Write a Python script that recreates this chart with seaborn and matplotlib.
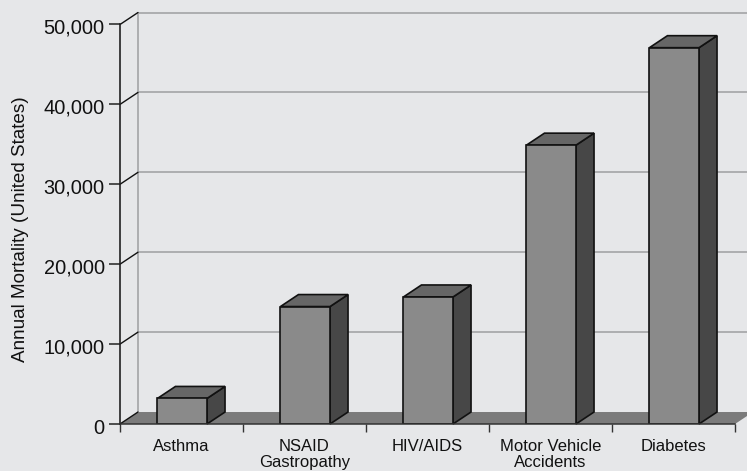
import matplotlib
matplotlib.use("Agg")
import matplotlib.pyplot as plt
from matplotlib.patches import Polygon
from matplotlib.transforms import ScaledTranslation
import seaborn as sns

# -----------------------------
# DATA
# -----------------------------
categories = ["Asthma", "NSAID\nGastropathy", "HIV/AIDS", "Motor Vehicle\nAccidents", "Diabetes"]
mortality = [3200, 14700, 15900, 34900, 47100]
y_ticks = [0, 10000, 20000, 30000, 40000, 50000]

# -----------------------------
# STYLE
# -----------------------------
BG = "#E6E7E9"
GRID = "#A9AAAC"
FLOOR = "#7B7B7B"
FRONT = "#8A8A8A"
TOP = "#666666"
SIDE = "#474747"
EDGE = "#111111"

sns.set_style("white")
plt.rcParams["font.family"] = ["Liberation Sans", "DejaVu Sans"]

# depth of the fake 3D box, in data units
DX = 18 / 123
DY = 1500

fig = plt.figure(figsize=(7.47, 4.71), dpi=100, facecolor=BG)
ax = fig.add_axes([120 / 747, 47 / 471, 615 / 747, 399.5 / 471])
ax.set_facecolor("none")

x_lo, x_hi = -0.5, len(categories) - 0.5

# -----------------------------
# BACK WALL + FLOOR
# -----------------------------
ax.add_patch(Polygon(
    [(x_lo, 0), (x_hi, 0), (x_hi + DX, DY), (x_lo + DX, DY)],
    facecolor=FLOOR, edgecolor="none", clip_on=False, zorder=1,
))
for v in y_ticks:
    if v > 0:
        ax.plot([x_lo + DX, x_hi + DX], [v + DY, v + DY], color=GRID, lw=1.3, clip_on=False, zorder=1)
    ax.plot([x_lo, x_lo + DX], [v, v + DY], color=EDGE, lw=1.0, clip_on=False, zorder=1.5)
ax.plot([x_lo + DX, x_lo + DX], [DY, y_ticks[-1] + DY], color=GRID, lw=1.3, clip_on=False, zorder=1)

# -----------------------------
# BARS
# -----------------------------
sns.barplot(
    x=list(range(len(categories))), y=mortality, color=FRONT, saturation=1,
    width=0.403, edgecolor=EDGE, linewidth=1.2, ax=ax, zorder=3,
)

for bar in list(ax.patches):
    if bar.get_zorder() != 3:
        continue
    bar.set_x(bar.get_x() + 0.006)
    x0, x1 = bar.get_x(), bar.get_x() + bar.get_width()
    h = bar.get_height()
    ax.add_patch(Polygon(
        [(x1, 0), (x1 + DX, DY), (x1 + DX, h + DY), (x1, h)],
        facecolor=SIDE, edgecolor=EDGE, lw=1.2, zorder=2.5, clip_on=False,
    ))
    ax.add_patch(Polygon(
        [(x0, h), (x1, h), (x1 + DX, h + DY), (x0 + DX, h + DY)],
        facecolor=TOP, edgecolor=EDGE, lw=1.2, zorder=2.5, clip_on=False,
    ))

# -----------------------------
# AXES
# -----------------------------
ax.set_xlim(x_lo, x_hi)
ax.set_ylim(0, y_ticks[-1])
ax.set_yticks(y_ticks)
ax.set_yticklabels([f"{v:,}" for v in y_ticks], fontsize=14.4, color="#111111")
ax.set_xticks(range(len(categories)))
ax.set_xticklabels(categories, fontsize=12, color="#111111", linespacing=1.15)
ax.set_xticks([i - 0.5 for i in range(len(categories) + 1)], minor=True)
ax.tick_params(axis="x", which="major", length=0, pad=10.5)
ax.tick_params(axis="x", which="minor", length=5.8, width=1.0, color="#333333", bottom=True)
ax.tick_params(axis="y", which="major", length=8, width=1.1, color="#222222", pad=3, left=True)
ax.set_ylabel("Annual Mortality (United States)", fontsize=13.6, color="#111111")
ax.yaxis.set_label_coords(-0.148, 0.487)

# tick labels sit a little under their ticks in the original
for label in ax.get_yticklabels():
    label.set_transform(label.get_transform() + ScaledTranslation(0, -2 / 100, fig.dpi_scale_trans))

sns.despine(ax=ax, top=True, right=True)
ax.spines["left"].set(color="#222222", lw=1.2, zorder=6)
ax.spines["bottom"].set(color="#333333", lw=1.1, zorder=6)

fig.savefig("out.png", dpi=100, facecolor=BG)
